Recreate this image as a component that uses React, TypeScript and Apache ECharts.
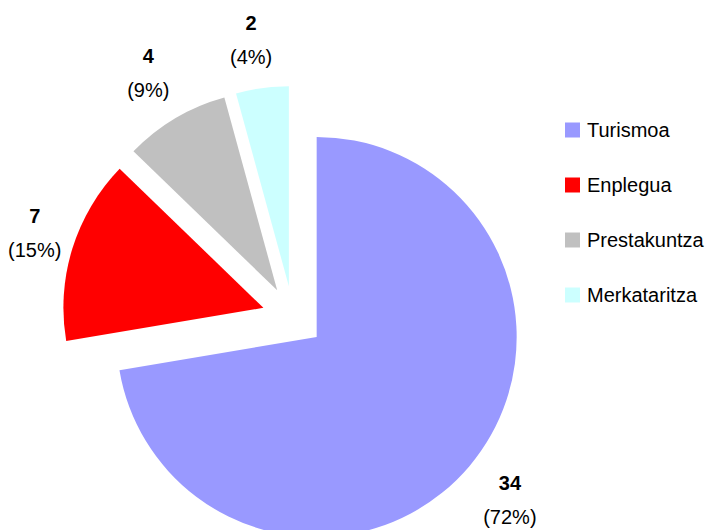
import React, { useEffect, useRef } from "react";
import * as echarts from "echarts";

const categories = ["Turismoa", "Enplegua", "Prestakuntza", "Merkataritza"];
const values = [34, 7, 4, 2];
const colors = ["#9999FF", "#FF0000", "#C0C0C0", "#CCFFFF"];
// label nudges (padding used to shift the centred label box)
const labelPads = [
  [0, 0, 0, 0],
  [0, 0, 0, 26],
  [0, 0, 0, 0],
  [8, 8, 0, 0],
];

const FONT = "'Liberation Sans', Arial, sans-serif";

export default function App() {
  const ref = useRef<HTMLDivElement>(null);
  useEffect(() => {
    if (!ref.current) return;
    const chart = echarts.init(ref.current, undefined, { renderer: "svg" });
    const pieData = categories.map((name, i) => ({
      name,
      value: values[i],
      selected: true,
      itemStyle: { color: colors[i] },
    }));
    const labelData = categories.map((name, i) => ({
      name,
      value: values[i],
      selected: true,
      label: { padding: labelPads[i] },
    }));
    chart.setOption({
      animation: false,
      backgroundColor: "#fff",
      textStyle: { fontFamily: FONT },
      legend: {
        orient: "vertical",
        left: 565,
        top: 120,
        padding: 0,
        icon: "rect",
        itemWidth: 15,
        itemHeight: 15,
        itemGap: 35,
        data: categories,
        textStyle: { fontFamily: FONT, fontSize: 20, color: "#000", padding: [0, 0, 0, 2] },
        selectedMode: false,
      },
      series: [
        {
          type: "pie",
          center: [293, 317],
          radius: [0, 200],
          startAngle: 90,
          clockwise: true,
          selectedMode: "multiple",
          selectedOffset: 31,
          percentPrecision: 0,
          itemStyle: { borderWidth: 0 },
          select: { itemStyle: { borderWidth: 0 } },
          label: { show: false },
          labelLine: { show: false },
          silent: true,
          data: pieData,
        },
        {
          type: "pie",
          center: [293, 317],
          radius: [0, 500],
          startAngle: 90,
          clockwise: true,
          selectedMode: "multiple",
          selectedOffset: 31,
          percentPrecision: 0,
          silent: true,
          z: 1,
          legendHoverLink: false,
          itemStyle: { color: "rgba(0,0,0,0)", borderWidth: 0 },
          select: { itemStyle: { color: "rgba(0,0,0,0)", borderWidth: 0 } },
          labelLine: { show: false },
          label: {
            show: true,
            position: "inside",
            color: "#000",
            formatter: "{b|{c}}\n{p|({d}%)}",
            rich: {
              b: { fontFamily: FONT, fontSize: 20, fontWeight: "bold", color: "#000", lineHeight: 34, align: "center" },
              p: { fontFamily: FONT, fontSize: 20, color: "#000", lineHeight: 34, align: "center" },
            },
          },
          data: labelData,
        },
      ],
    });
    return () => chart.dispose();
  }, []);
  return (
    <div
      ref={ref}
      style={{ position: "absolute", left: 0, top: 0, width: 705, height: 530 }}
    />
  );
}
